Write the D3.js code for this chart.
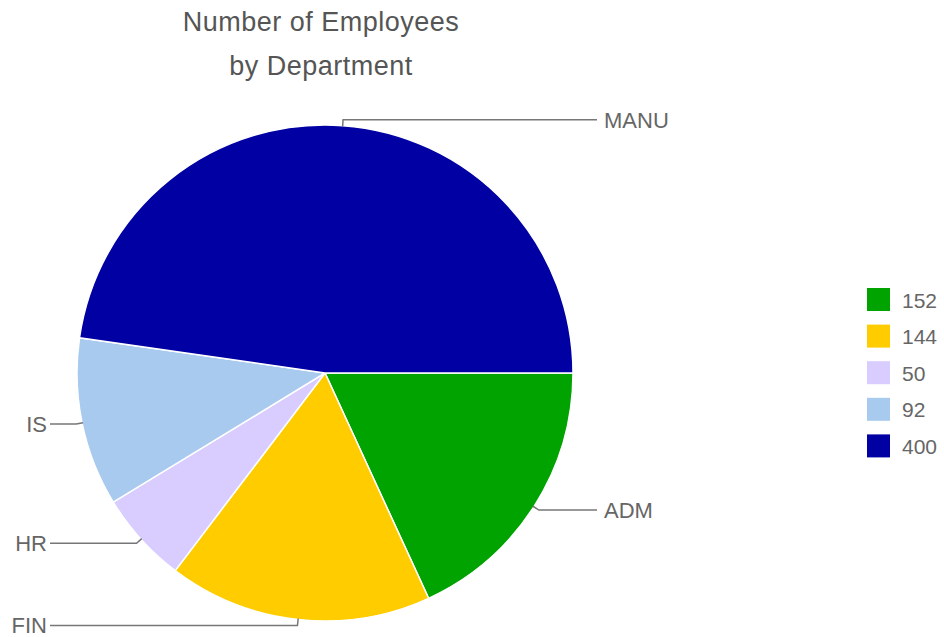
<!DOCTYPE html>
<html>
<head>
<meta charset="utf-8">
<script src="https://cdn.jsdelivr.net/npm/d3@7"></script>
<style>
  html, body { margin: 0; padding: 0; background: #fff; }
  svg { display: block; font-family: "Liberation Sans", Arial, Helvetica, sans-serif; }
</style>
</head>
<body>
<svg id="chart" width="944" height="637"></svg>
<script>
// Employees per department
const departments = ["ADM", "FIN", "HR", "IS", "MANU"];
const employees = [152, 144, 50, 92, 400];
const sliceColors = ["#00a300", "#ffcc00", "#d9ccff", "#a8caee", "#0000a3"];
const titleLines = ["Number of Employees", "by Department"];

const svg = d3.select("#chart");
const cx = 325, cy = 373, radius = 248;

// Title
svg.append("g").selectAll("text")
  .data(titleLines)
  .join("text")
  .attr("x", 321)
  .attr("y", (d, i) => 31 + i * 44)
  .attr("text-anchor", "middle")
  .attr("font-size", 27)
  .attr("letter-spacing", 0.5)
  .attr("fill", "#555")
  .text(d => d);

// Pie: starts at 3 o'clock, runs clockwise
const pie = d3.pie()
  .sort(null)
  .value(d => d.value)
  .startAngle(Math.PI / 2)
  .endAngle(Math.PI / 2 + 2 * Math.PI);

const data = departments.map((name, i) => ({ name, value: employees[i], color: sliceColors[i] }));
const arcs = pie(data);
const arc = d3.arc().innerRadius(0).outerRadius(radius);

const g = svg.append("g").attr("transform", `translate(${cx},${cy})`);
g.selectAll("path")
  .data(arcs)
  .join("path")
  .attr("d", arc)
  .attr("fill", d => d.data.color)
  .attr("stroke", "#fff")
  .attr("stroke-width", 1.5);

// Leader lines and category labels
const onArc = d3.arc().innerRadius(radius - 1).outerRadius(radius - 1);
const elbowArc = d3.arc().innerRadius(radius + 6).outerRadius(radius + 6);
const rightLineEnd = 597 - cx, leftLineEnd = 50 - cx;

const labels = g.append("g");
arcs.forEach(d => {
  const p0 = onArc.centroid(d);
  const p1 = elbowArc.centroid(d);
  const mid = (d.startAngle + d.endAngle) / 2;
  const right = Math.sin(mid) > 0;
  const xEnd = right ? rightLineEnd : leftLineEnd;
  labels.append("polyline")
    .attr("points", [p0, p1, [xEnd, p1[1]]].map(p => p.join(",")).join(" "))
    .attr("fill", "none")
    .attr("stroke", "#777")
    .attr("stroke-width", 1.5);
  labels.append("text")
    .attr("x", right ? xEnd + 7 : xEnd - 3)
    .attr("y", p1[1])
    .attr("dy", "0.36em")
    .attr("text-anchor", right ? "start" : "end")
    .attr("font-size", 22)
    .attr("fill", "#666")
    .text(d.data.name);
});

// Legend showing the values
const legend = svg.append("g").attr("transform", "translate(867,288)");
const rows = legend.selectAll("g")
  .data(data)
  .join("g")
  .attr("transform", (d, i) => `translate(0,${i * 36.6})`);
rows.append("rect")
  .attr("width", 23)
  .attr("height", 23)
  .attr("fill", d => d.color);
rows.append("text")
  .attr("x", 35)
  .attr("y", 12)
  .attr("dy", "0.36em")
  .attr("font-size", 21)
  .attr("fill", "#666")
  .text(d => d.value);
</script>
</body>
</html>
